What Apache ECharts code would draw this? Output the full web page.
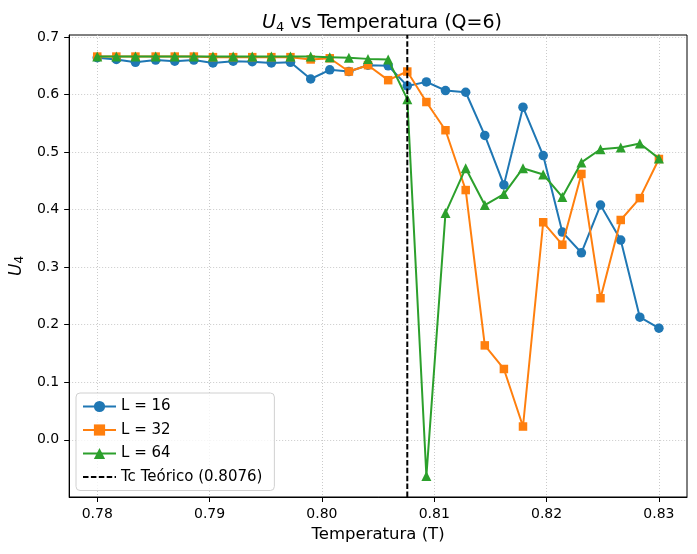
<!DOCTYPE html>
<html>
<head>
<meta charset="utf-8">
<script src="https://cdn.jsdelivr.net/npm/echarts@6/dist/echarts.min.js"></script>
<style>html,body{margin:0;padding:0;background:#fff}#c{width:697px;height:554px}</style>
</head>
<body>
<div id="c"></div>
<script>
const temps = [0.7800, 0.7817, 0.7834, 0.7852, 0.7869, 0.7886, 0.7903, 0.7921, 0.7938, 0.7955,
               0.7972, 0.7990, 0.8007, 0.8024, 0.8041, 0.8059, 0.8076, 0.8093, 0.8110, 0.8128,
               0.8145, 0.8162, 0.8179, 0.8197, 0.8214, 0.8231, 0.8248, 0.8266, 0.8283, 0.8300];
const u4_L16 = [0.664, 0.661, 0.656, 0.660, 0.658, 0.660, 0.655, 0.658, 0.657, 0.655,
                0.656, 0.627, 0.643, 0.640, 0.651, 0.650, 0.615, 0.622, 0.607, 0.604,
                0.529, 0.443, 0.578, 0.494, 0.361, 0.325, 0.408, 0.347, 0.213, 0.194];
const u4_L32 = [0.666, 0.666, 0.666, 0.666, 0.666, 0.666, 0.665, 0.665, 0.665, 0.665,
                0.665, 0.661, 0.663, 0.640, 0.651, 0.625, 0.640, 0.587, 0.538, 0.434,
                0.164, 0.123, 0.023, 0.378, 0.339, 0.462, 0.246, 0.382, 0.420, 0.488];
const u4_L64 = [0.666, 0.666, 0.666, 0.666, 0.666, 0.666, 0.666, 0.666, 0.666, 0.666,
                0.666, 0.666, 0.665, 0.664, 0.662, 0.661, 0.592, -0.063, 0.394, 0.472,
                0.408, 0.427, 0.472, 0.461, 0.422, 0.482, 0.505, 0.508, 0.515, 0.489];
const seriesNames = ['L = 16', 'L = 32', 'L = 64'];
const tcName = 'Tc Teórico (0.8076)';
const tcValue = 0.8076;
const xTicks = [0.78, 0.79, 0.80, 0.81, 0.82, 0.83];
const yTicks = [0.0, 0.1, 0.2, 0.3, 0.4, 0.5, 0.6, 0.7];
const xRange = [0.7775, 0.8325];
const yRange = [-0.0995, 0.7035];

const FONT = 'DejaVu Sans';
const colors = ['#1f77b4', '#ff7f0e', '#2ca02c'];
const symbols = ['circle', 'rect', 'triangle'];
const sizes = [9.5, 8.5, 10];
const allData = [u4_L16, u4_L32, u4_L64];

const chart = echarts.init(document.getElementById('c'), null, {renderer: 'canvas'});
const series = allData.map((vals, k) => ({
  name: seriesNames[k],
  type: 'line',
  data: temps.map((t, i) => [t, vals[i]]),
  symbol: symbols[k],
  symbolSize: sizes[k],
  showAllSymbol: true,
  itemStyle: {color: colors[k]},
  lineStyle: {color: colors[k], width: 2},
  z: 3 + k,
  animation: false
}));
series.push({
  name: tcName,
  type: 'line',
  data: [[tcValue, yRange[0]], [tcValue, yRange[1]]],
  symbol: 'none',
  showSymbol: false,
  silent: true,
  itemStyle: {color: '#000'},
  lineStyle: {color: '#000', width: 2, type: [5.5, 2.4]},
  z: 10,
  animation: false
});

chart.setOption({
  animation: false,
  textStyle: {fontFamily: FONT},
  title: {
    text: '{i|U}{s|4} vs Temperatura (Q=6)',
    left: 377, top: 8, textAlign: 'center',
    textStyle: {
      fontFamily: FONT, fontSize: 19, fontWeight: 'normal', color: '#000',
      rich: {
        i: {fontFamily: FONT, fontSize: 19, fontStyle: 'italic', color: '#000'},
        s: {fontFamily: FONT, fontSize: 13, color: '#000', padding: [8, 0, 0, 0]}
      }
    }
  },
  grid: {left: 67, right: 10, top: 35, bottom: 57, show: true, borderColor: '#000', borderWidth: 1, containLabel: false},
  legend: {
    data: seriesNames.concat([{name: tcName, itemStyle: {opacity: 0}}]),
    orient: 'vertical',
    left: 76, top: 393,
    itemWidth: 33, itemHeight: 14, itemGap: 8.5,
    padding: [6, 12, 6, 6],
    borderColor: '#d0d0d0', borderWidth: 1, borderRadius: 4,
    backgroundColor: 'rgba(255,255,255,0.8)',
    textStyle: {fontFamily: FONT, fontSize: 15, color: '#000'}
  },
  xAxis: {
    type: 'value', min: xRange[0], max: xRange[1],
    name: 'Temperatura (T)', nameLocation: 'middle', nameGap: 29,
    nameTextStyle: {fontFamily: FONT, fontSize: 16.5, color: '#000'},
    axisLine: {show: true, onZero: false, lineStyle: {color: '#000', width: 1}},
    axisTick: {show: true, length: 5, customValues: xTicks, lineStyle: {color: '#000'}},
    axisLabel: {customValues: xTicks, margin: 10, fontFamily: FONT, fontSize: 14, color: '#000', formatter: v => v.toFixed(2)},
    splitLine: {show: true, lineStyle: {color: '#c4c4c4', width: 0.9, type: [1, 2]}}
  },
  yAxis: {
    type: 'value', min: yRange[0], max: yRange[1],
    name: '{i|U}{s|4}', nameLocation: 'middle', nameGap: 38, nameRotate: 90,
    nameTextStyle: {
      fontFamily: FONT, fontSize: 17, color: '#000',
      rich: {
        i: {fontFamily: FONT, fontSize: 17, fontStyle: 'italic', color: '#000'},
        s: {fontFamily: FONT, fontSize: 12, color: '#000', padding: [7, 0, 0, 0]}
      }
    },
    axisLine: {show: true, onZero: false, lineStyle: {color: '#000', width: 1}},
    axisTick: {show: true, length: 5, customValues: yTicks, lineStyle: {color: '#000'}},
    axisLabel: {customValues: yTicks, margin: 10, fontFamily: FONT, fontSize: 14, color: '#000', formatter: v => v.toFixed(1)},
    splitLine: {show: true, lineStyle: {color: '#c4c4c4', width: 0.9, type: [1, 2]}}
  },
  series: series
});
</script>
</body>
</html>
